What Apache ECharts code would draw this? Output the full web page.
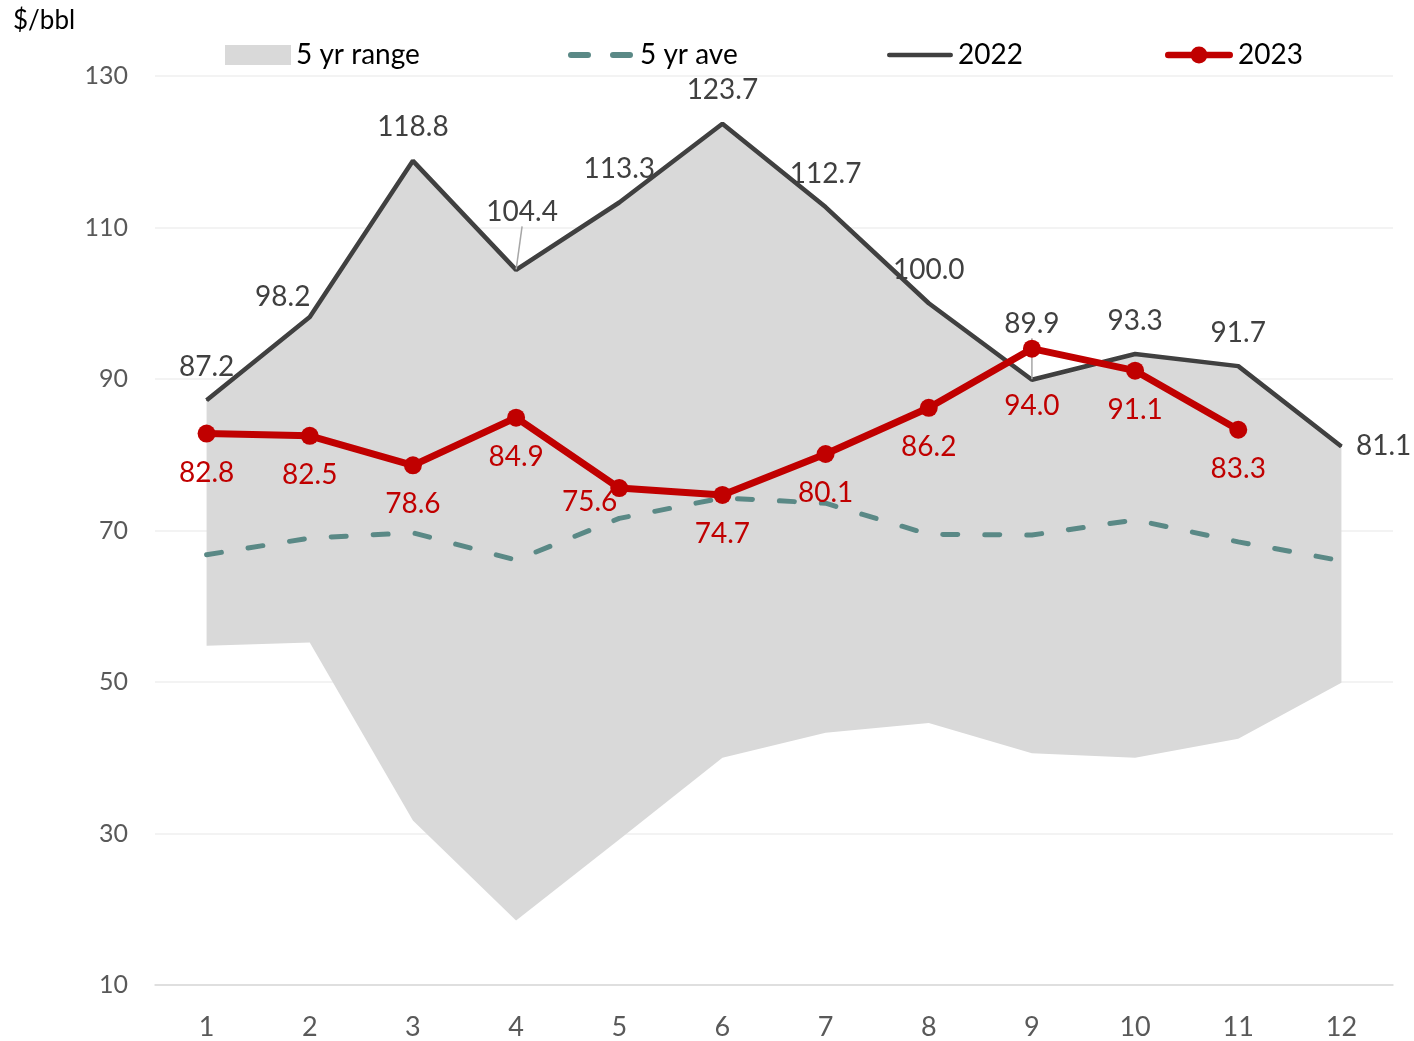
<!DOCTYPE html>
<html>
<head>
<meta charset="utf-8">
<script src="https://cdn.jsdelivr.net/npm/echarts@6/dist/echarts.min.js"></script>
<style>
html,body{margin:0;padding:0;background:#fff;}
#chart{width:1414px;height:1041px;}
</style>
</head>
<body>
<div id="chart"></div>
<script>
// ---- data ----
const months = ['1','2','3','4','5','6','7','8','9','10','11','12'];
const rangeLow  = [54.8, 55.2, 31.7, 18.5, 29.2, 40.0, 43.3, 44.6, 40.6, 40.0, 42.5, 49.9];
const rangeHigh = [87.2, 98.2, 118.8, 104.4, 113.3, 123.7, 112.7, 100.0, 89.9, 93.3, 91.7, 81.1];
const avg5      = [66.8, 69.0, 69.7, 66.1, 71.6, 74.3, 73.6, 69.5, 69.4, 71.4, 68.5, 66.0];
const y2022     = [87.2, 98.2, 118.8, 104.4, 113.3, 123.7, 112.7, 100.0, 89.9, 93.3, 91.7, 81.1];
const y2023     = [82.8, 82.5, 78.6, 84.9, 75.6, 74.7, 80.1, 86.2, 94.0, 91.1, 83.3];
const yTicks    = {min: 10, max: 130, step: 20};

// ---- label placement (styles, kept apart from data) ----
const lab2022 = [
  {position:'top', distance:19},
  {position:'top', distance:19},
  {position:'top', distance:19},
  {position:'top', distance:19},
  {position:'top', distance:19},
  {position:'top', distance:19},
  {position:'top', distance:19},
  {position:'top', distance:19},
  {position:'top', distance:19},
  {position:'top', distance:19},
  {position:'top', distance:19},
  {position:'right', distance:14}
];
const move2022 = {1: {dx: -27, dy: 14}, 3: {dx: 6, dy: -24}, 8: {dx: 0, dy: -22}};
const guide2022 = {3: true, 8: true};
const lab2023 = [
  {position:'bottom', distance:16},
  {position:'bottom', distance:16},
  {position:'bottom', distance:16},
  {position:'bottom', distance:16},
  {position:'left', distance:0, offset:[7,14]},
  {position:'bottom', distance:16},
  {position:'bottom', distance:16},
  {position:'bottom', distance:16},
  {position:'bottom', distance:34},
  {position:'bottom', distance:16},
  {position:'bottom', distance:16}
];

const FONT = 'Lato, "Noto Sans", sans-serif';
const rangeSpan = rangeHigh.map((h, i) => +(h - rangeLow[i]).toFixed(2));

const chart = echarts.init(document.getElementById('chart'), null, {renderer:'canvas'});

const ICON_AVE  = 'path://M3,0 H20 A3,3 0 0 1 20,6 H3 A3,3 0 0 1 3,0 Z M45,0 H62 A3,3 0 0 1 62,6 H45 A3,3 0 0 1 45,0 Z';
const ICON_2022 = 'path://M2.5,0 H69.5 A2.5,2.5 0 0 1 69.5,5 H2.5 A2.5,2.5 0 0 1 2.5,0 Z';
const ICON_2023 = 'path://M3.5,5.5 H68.5 A3.5,3.5 0 0 1 68.5,12.5 H3.5 A3.5,3.5 0 0 1 3.5,5.5 Z M27,9 A9,9 0 1 1 45,9 A9,9 0 1 1 27,9 Z';

function legendAt(left, item, w, h, padLeft) {
  return {
    left: left, top: 35,
    itemWidth: w, itemHeight: h,
    selectedMode: false,
    textStyle: {fontFamily: FONT, fontSize: 28, color: '#000', lineHeight: 30,
                padding: [0, 0, 0, padLeft || 0]},
    data: [item]
  };
}

const option = {
  animation: false,
  backgroundColor: '#fff',
  grid: {left: 155, right: 21, top: 76, bottom: 56, containLabel: false},
  graphic: [{
    type: 'text', left: 13, top: 8,
    style: {text: '$/bbl', font: '26px ' + FONT, fill: '#000'}
  }],
  legend: [
    legendAt(220, {name: '5 yr range', icon: 'rect'}, 66, 20, 0),
    legendAt(563, {name: '5 yr ave', icon: ICON_AVE}, 65, 6, 2),
    legendAt(882, {name: '2022', icon: ICON_2022}, 66, 5, 0),
    legendAt(1160, {name: '2023', icon: ICON_2023}, 68, 18, 0)
  ],
  xAxis: {
    type: 'category', data: months, boundaryGap: true,
    axisLine: {lineStyle: {color: '#d9d9d9', width: 1.5}},
    axisTick: {show: false},
    axisLabel: {fontFamily: FONT, fontSize: 27, color: '#595959', margin: 29},
    splitLine: {show: false}
  },
  yAxis: {
    type: 'value', min: yTicks.min, max: yTicks.max, interval: yTicks.step,
    axisLine: {show: false}, axisTick: {show: false},
    axisLabel: {fontFamily: FONT, fontSize: 25, color: '#595959', margin: 27},
    splitLine: {lineStyle: {color: '#efefef', width: 1.5}}
  },
  series: [
    {
      name: 'rangeBase', type: 'line', stack: 'range', data: rangeLow,
      symbol: 'none', lineStyle: {width: 0, opacity: 0}, silent: true, z: 1
    },
    {
      name: '5 yr range', type: 'line', stack: 'range', data: rangeSpan,
      symbol: 'none', lineStyle: {width: 0, opacity: 0},
      itemStyle: {color: '#d9d9d9'},
      areaStyle: {color: '#d9d9d9', opacity: 1}, silent: true, z: 1
    },
    {
      name: '5 yr ave', type: 'line', data: avg5,
      symbol: 'none',
      itemStyle: {color: '#5a8986'},
      lineStyle: {color: '#5a8986', width: 5, type: [15, 27], cap: 'round'},
      z: 2
    },
    {
      name: '2022', type: 'line',
      data: y2022.map((v, i) => ({
        value: v, label: lab2022[i],
        labelLine: {show: !!guide2022[i]}
      })),
      symbol: 'circle', symbolSize: 1,
      itemStyle: {color: '#404040'},
      lineStyle: {color: '#404040', width: 4.5},
      label: {show: true, fontFamily: FONT, fontSize: 28, color: '#404040',
              formatter: p => p.value.toFixed(1)},
      labelLine: {show: false, lineStyle: {color: '#a6a6a6', width: 1.5}},
      labelLayout: function (p) {
        return move2022[p.dataIndex] || {};
      },
      z: 3
    },
    {
      name: '2023', type: 'line',
      data: y2023.map((v, i) => ({value: v, label: lab2023[i]})),
      symbol: 'circle', symbolSize: 18,
      itemStyle: {color: '#c00000'},
      lineStyle: {color: '#c00000', width: 7},
      label: {show: true, fontFamily: FONT, fontSize: 28, color: '#c00000',
              formatter: p => p.value.toFixed(1)},
      z: 4
    }
  ]
};
chart.setOption(option);
</script>
</body>
</html>
